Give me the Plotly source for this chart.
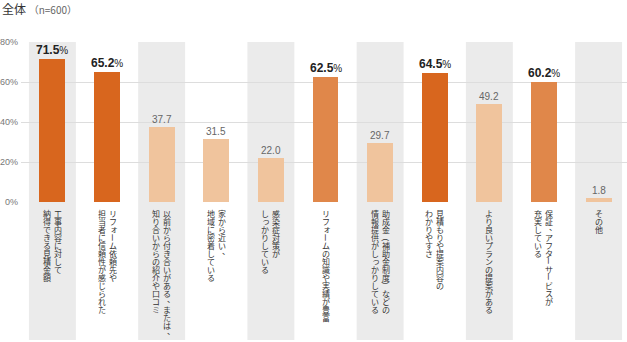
import plotly.graph_objects as go

categories = [
    "工事内容に対して\n納得できる見積金額",
    "リフォーム依頼先や\n担当者に信頼性が感じられた",
    "以前から付き合いがある、または、\n知り合いからの紹介や口コミ",
    "家から近い、\n地域に密着している",
    "感染症対策が\nしっかりしている",
    "リフォームの知識や実績が豊富",
    "助成金（補助金制度）などの\n情報提供がしっかりしている",
    "見積もりや提案内容の\nわかりやすさ",
    "より良いプランの提案がある",
    "保証、アフターサービスが\n充実している",
    "その他",
]
values = [71.5, 65.2, 37.7, 31.5, 22.0, 62.5, 29.7, 64.5, 49.2, 60.2, 1.8]
tiers = [1, 1, 3, 3, 3, 2, 3, 1, 3, 2, 3]  # 1=top, 2=high, 3=others
y_ticks = [0, 20, 40, 60, 80]
y_tick_text = ["0%", "20%", "40%", "60%", "80%"]
title_main = "全体"
title_sub = "（n=600）"

tier_colors = {1: "#D8661E", 2: "#E0874A", 3: "#F0C49D"}
JP = "Noto Sans CJK JP, sans-serif"
NUM = "Arial, Liberation Sans, sans-serif"

x = list(range(len(categories)))
fig = go.Figure()
fig.add_trace(go.Bar(
    x=x, y=values, width=0.475,
    marker=dict(color=[tier_colors[t] for t in tiers], line=dict(width=0)),
    hoverinfo="skip",
))

shapes = []
for i in x:
    if i % 2 == 0:
        shapes.append(dict(type="rect", xref="x", yref="paper",
                           x0=i - 0.43, x1=i + 0.43, y0=-0.8625, y1=1.0,
                           fillcolor="#EBEBEB", line=dict(width=0), layer="below"))

annotations = []
# value labels
for i, (v, t) in enumerate(zip(values, tiers)):
    if t in (1, 2):
        txt = f"<b>{v:.1f}</b><span style='font-size:10px'>%</span>"
        annotations.append(dict(x=i, y=v, xref="x", yref="y", text=txt, showarrow=False,
                                yanchor="bottom", yshift=1, borderpad=0,
                                font=dict(family=NUM, size=12, color="#222")))
    else:
        annotations.append(dict(x=i, y=v, xref="x", yref="y", text=f"{v:.1f}", showarrow=False,
                                yanchor="bottom", yshift=1, borderpad=0,
                                font=dict(family=NUM, size=10, color="#666")))

# vertical (tategaki) category labels
step = 8.0
top_px = 213  # center of first char, px from top
plot_top, plot_h = 42, 160
rotate_chars = set("ー（）")
small_kana = set("ゃゅょっャュョッァィゥェォ")
for i, cat in enumerate(categories):
    lines = cat.split("\n")
    n = len(lines)
    for li, line in enumerate(lines):
        xs = (n - 1) * 5.5 - li * 11.0
        for ci, ch in enumerate(line):
            ypx = top_px + ci * step
            ypaper = (plot_top + plot_h - ypx) / plot_h
            dx, dy = 0, 0
            ang = 0
            if ch in rotate_chars:
                ang = 90
            if ch == "、":
                dx, dy = 4, 3
            if ch in small_kana:
                dx, dy = 1, 1
            annotations.append(dict(x=i, y=ypaper, xref="x", yref="paper", text=ch,
                                    showarrow=False, xanchor="center", yanchor="middle",
                                    xshift=xs + dx, yshift=dy, textangle=ang, borderpad=0,
                                    font=dict(family=JP, size=8, color="#333")))

# title
annotations.append(dict(x=0, y=1 + 34 / 160, xref="paper", yref="paper", xanchor="left",
                        yanchor="middle", xshift=-21, showarrow=False,
                        text=f"{title_main} <span style='font-size:10px;color:#666'>{title_sub}</span>",
                        font=dict(family=JP, size=12, color="#333")))

fig.update_layout(
    width=627, height=342,
    margin=dict(l=21, r=0, t=42, b=140),
    paper_bgcolor="white", plot_bgcolor="rgba(0,0,0,0)",
    showlegend=False, bargap=0,
    shapes=shapes, annotations=annotations,
    xaxis=dict(range=[-0.575, 10.52], showticklabels=False, showgrid=False,
               zeroline=False, showline=False, ticks=""),
    yaxis=dict(range=[0, 80], tickmode="array", tickvals=y_ticks, ticktext=y_tick_text,
               showgrid=True, gridcolor="#DDDDDD", gridwidth=1, zeroline=False, showline=False,
               tickfont=dict(family=NUM, size=9, color="#777"),
               ticks="", ticklabelstandoff=2),
    font=dict(family=JP),
)

fig.write_html("out.html")
